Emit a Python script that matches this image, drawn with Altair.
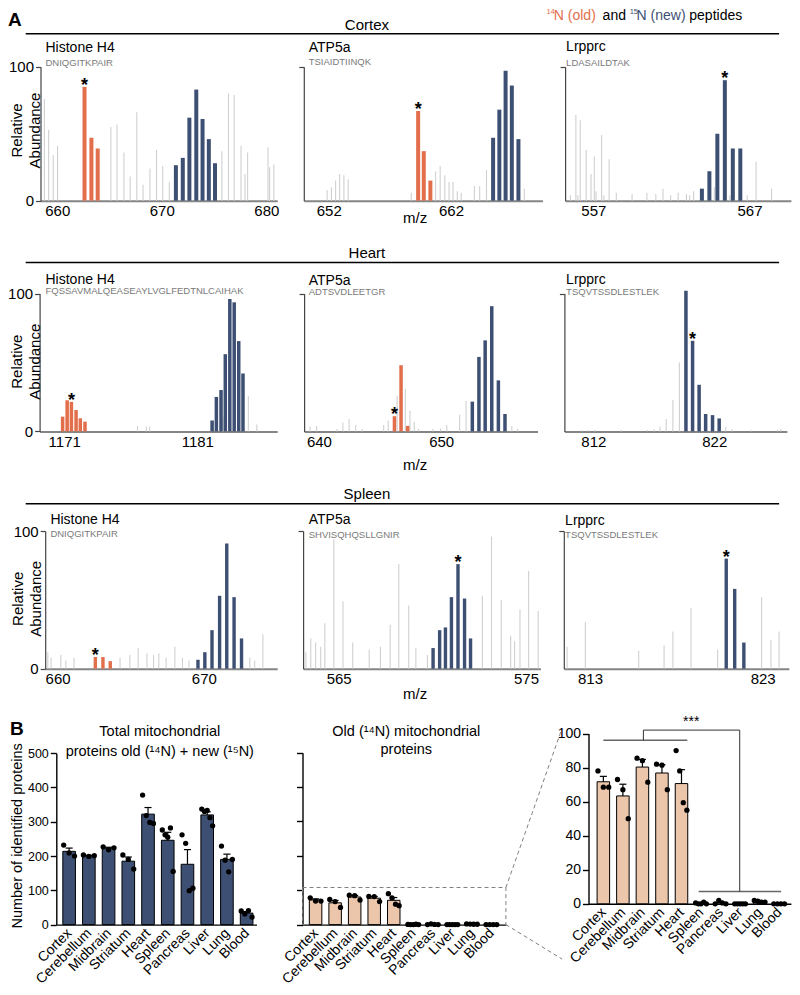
import altair as alt
import pandas as pd

FONT = "Liberation Sans"
ORANGE = "#E26E4B"
BLUE = "#3D4F73"
TAN = "#EBC6AA"
GRAY_PEAK = "#D0D0D0"

# ---------------- Panel A: spectra (m/z, relative abundance %) ----------------
CTX_H4_GRAY_MZ = [658.77, 659.18, 659.62, 660.03, 665.13, 665.72, 666.38, 666.98, 667.61, 668.21, 668.87, 669.50, 670.09, 670.72, 675.75, 676.38, 676.92, 677.58, 677.96, 678.21, 680.16, 680.32, 680.72]
CTX_H4_GRAY_AB = [76, 53, 34, 41, 55, 57, 36, 18, 66, 12, 24, 38, 26, 14, 37, 80, 79, 41, 20, 36, 40, 25, 27]
CTX_H4_OLD_MZ = [662.61, 663.27, 663.87]
CTX_H4_OLD_AB = [85, 47, 39]
CTX_H4_NEW_MZ = [671.35, 672.01, 672.64, 673.30, 673.90, 674.50, 675.09]
CTX_H4_NEW_AB = [26.5, 32, 62, 83, 61, 46, 28]

CTX_ATP_GRAY_MZ = [651.87, 652.22, 652.56, 652.89, 653.24, 653.59, 658.75, 660.74, 661.11, 661.49, 661.84, 662.16, 662.51, 662.83, 663.91, 664.34, 664.90, 667.99]
CTX_ATP_GRAY_AB = [8, 10, 15, 20, 19, 16, 6, 22, 26, 19, 14, 14, 7, 6, 11, 11, 23, 9]
CTX_ATP_OLD_MZ = [659.31, 659.77, 660.31]
CTX_ATP_OLD_AB = [67, 37, 15]
CTX_ATP_NEW_MZ = [665.44, 665.95, 666.46, 666.97, 667.51]
CTX_ATP_NEW_AB = [47, 68, 97, 86, 46]

CTX_LRP_GRAY_MZ = [555.53, 555.88, 556.01, 556.16, 556.54, 556.85, 557.06, 557.17, 557.53, 557.67, 558.01, 558.47, 559.48, 560.43, 561.00, 561.46, 561.95, 562.43, 562.96, 563.17, 563.42, 564.75, 565.74, 566.01, 566.85, 567.42, 568.41]
CTX_LRP_GRAY_AB = [4, 64, 4, 60, 38, 20, 33, 7, 49, 4, 31, 6, 5, 6, 5, 9, 4, 6, 5, 4, 7, 10, 4, 5, 4, 29, 9]
CTX_LRP_OLD_MZ = []
CTX_LRP_OLD_AB = []
CTX_LRP_NEW_MZ = [563.95, 564.43, 564.94, 565.42, 565.93, 566.41]
CTX_LRP_NEW_AB = [9, 22, 50, 90, 39, 39]

HRT_H4_GRAY_MZ = [1176.51, 1177.17, 1177.42, 1182.93, 1184.83, 1185.47]
HRT_H4_GRAY_AB = [4, 3.6, 3.6, 10.7, 25.5, 5]
HRT_H4_OLD_MZ = [1170.88, 1171.22, 1171.54, 1171.89, 1172.21, 1172.56]
HRT_H4_OLD_AB = [10.7, 22.6, 21.4, 15.5, 9.5, 7.1]
HRT_H4_NEW_MZ = [1182.11, 1182.43, 1182.78, 1183.10, 1183.44, 1183.77, 1184.11, 1184.43]
HRT_H4_NEW_AB = [7.9, 25, 30, 56, 96, 93.6, 65.5, 42]

HRT_ATP_GRAY_MZ = [639.27, 639.81, 641.48, 641.96, 642.47, 643.01, 643.55, 645.30, 645.67, 646.40, 647.07, 647.45, 647.80, 648.15, 649.33, 649.95, 650.46, 651.51, 652.04, 655.78, 656.26]
HRT_ATP_GRAY_AB = [3.6, 4, 1.7, 6.5, 9, 4.6, 1.7, 4.6, 7.8, 26, 31, 15, 7, 1.7, 1.7, 2, 4.6, 12, 22, 4, 2]
HRT_ATP_OLD_MZ = [646.18, 646.72, 647.26]
HRT_ATP_OLD_AB = [11, 48, 4]
HRT_ATP_NEW_MZ = [652.55, 653.09, 653.60, 654.14, 654.68, 655.22]
HRT_ATP_NEW_AB = [21.6, 54, 66, 90.8, 37, 12.6]

HRT_LRP_GRAY_MZ = [811.05, 811.59, 812.14, 814.31, 816.48, 817.03, 817.52, 818.03, 818.58, 819.12, 822.95, 823.47, 825.04, 827.22, 827.49]
HRT_LRP_GRAY_AB = [1, 1, 1, 1, 1, 1.5, 3.4, 9, 22.7, 50, 3.4, 1.7, 0.8, 1.2, 1.5]
HRT_LRP_OLD_MZ = []
HRT_LRP_OLD_AB = []
HRT_LRP_NEW_MZ = [819.66, 820.21, 820.75, 821.29, 821.86, 822.41]
HRT_LRP_NEW_AB = [102, 65.7, 33.8, 12.6, 11.8, 9.4]

SPL_H4_GRAY_MZ = [659.33, 659.55, 660.22, 660.56, 661.12, 664.27, 664.94, 665.51, 666.11, 666.56, 666.92, 667.42, 668.02, 668.54, 668.99, 673.15, 673.48, 674.04]
SPL_H4_GRAY_AB = [12, 8, 10, 6, 8, 8, 10, 15, 11, 10, 11, 8, 16, 8, 6, 8, 6, 25]
SPL_H4_OLD_MZ = [662.58, 663.10, 663.60]
SPL_H4_OLD_AB = [8.5, 8.5, 5.5]
SPL_H4_NEW_MZ = [669.60, 670.07, 670.56, 671.08, 671.57, 672.07, 672.58]
SPL_H4_NEW_AB = [6.5, 12, 28, 53, 91, 52, 22]

SPL_ATP_GRAY_MZ = [563.25, 563.51, 563.77, 564.04, 564.26, 564.74, 565.23, 565.75, 566.63, 567.23, 567.75, 568.21, 568.74, 569.12, 569.74, 572.67, 573.16, 573.68, 574.18, 574.39, 574.68, 575.14, 575.65]
SPL_ATP_GRAY_AB = [12, 22, 19, 16, 33, 94, 49, 19, 14, 16, 32, 76, 46, 15, 10, 53, 96, 50, 24, 20, 43, 71, 42]
SPL_ATP_OLD_MZ = []
SPL_ATP_OLD_AB = []
SPL_ATP_NEW_MZ = [570.04, 570.39, 570.70, 571.02, 571.37, 571.72, 572.04]
SPL_ATP_NEW_AB = [15, 28, 30, 52, 76, 51, 22]

SPL_LRP_GRAY_MZ = [811.67, 812.73, 815.82, 817.29, 817.80, 818.85, 820.39, 822.94, 823.48, 823.95]
SPL_LRP_GRAY_AB = [16, 34, 13, 17, 27, 44, 14, 52, 21, 27]
SPL_LRP_OLD_MZ = []
SPL_LRP_OLD_AB = []
SPL_LRP_NEW_MZ = [820.89, 821.38, 821.91]
SPL_LRP_NEW_AB = [80, 58, 19]

# starred peak of each spectrum: (series, index)
STARS = {"CTX_H4": ("old", 0), "CTX_ATP": ("old", 0), "CTX_LRP": ("new", 3),
         "HRT_H4": ("old", 2), "HRT_ATP": ("old", 0), "HRT_LRP": ("new", 1),
         "SPL_H4": ("old", 0), "SPL_ATP": ("new", 4), "SPL_LRP": ("new", 0)}

PROTEINS = {"H4": "Histone H4", "ATP": "ATP5a", "LRP": "Lrpprc"}
PEPTIDES = {"CTX_H4": "DNIQGITKPAIR", "CTX_ATP": "TSIAIDTIINQK", "CTX_LRP": "LDASAILDTAK",
            "HRT_H4": "FQSSAVMALQEASEAYLVGLFEDTNLCAIHAK", "HRT_ATP": "ADTSVDLEETGR", "HRT_LRP": "TSQVTSSDLESTLEK",
            "SPL_H4": "DNIQGITKPAIR", "SPL_ATP": "SHVISQHQSLLGNIR", "SPL_LRP": "TSQVTSSDLESTLEK"}
TICKS = {"CTX_H4": [660, 670, 680], "CTX_ATP": [652, 662], "CTX_LRP": [557, 567],
         "HRT_H4": [1171, 1181], "HRT_ATP": [640, 650], "HRT_LRP": [812, 822],
         "SPL_H4": [660, 670], "SPL_ATP": [565, 575], "SPL_LRP": [813, 823]}
DOMAINS = {"CTX_H4": [658.40, 681.04], "CTX_ATP": [649.96, 669.47], "CTX_LRP": [555.19, 569.65],
           "HRT_H4": [1169.15, 1187.0], "HRT_ATP": [638.79, 657.88], "HRT_LRP": [809.61, 828.01],
           "SPL_H4": [659.15, 675.02], "SPL_ATP": [563.10, 575.77], "SPL_LRP": [811.48, 824.52]}
TISSUE_ROWS = ["Cortex", "Heart", "Spleen"]

# ---------------- Panel B: identified proteins per replicate ----------------
TISSUES = ["Cortex", "Cerebellum", "Midbrain", "Striatum", "Heart", "Spleen", "Pancreas", "Liver", "Lung", "Blood"]
TOTAL_PROTEINS = [[232, 209, 200], [203, 199, 201], [227, 218, 224], [203, 190, 162], [378, 318, 298, 295],
                  [276, 262, 255, 282, 155], [262, 237, 99, 106], [337, 330, 333, 312, 288], [229, 188, 154, 190], [40, 31, 41, 22]]
OLD_PROTEINS = [[78, 68.5, 68.5], [73, 67, 50], [85.5, 84, 71.4], [82, 81.4, 67], [90, 78, 59.4, 55],
                [0.5, 0, 0, 1, 0], [0, 2, 0.5, 0], [0, 0, 0, 0, 0], [2, 1.5, 1, 1], [0, 0, 0, 0]]
ZOOM_BOX = [0, 108]
SIG_GROUP_X1 = [0, 4.88]
SIG_GROUP_X2 = [4.3, 9.1]
SIG_GROUP_Y = [96, 7.2]
BRACKET_X = [2.05, 2.05, 6.98, 6.98]
BRACKET_Y = [96, 102, 102, 7.2]
SIG_TEXT = "***"
SIG_TEXT_POS = [4.5, 102]

# ---------------- layout helpers (reference-pixel -> view-pixel) ----------------
W, H = 784, 979


def X(rx):
    return round((rx - 3) * 0.986, 1)


def Y(ry):
    return round((ry - 4) * 0.988, 1)


DUMMY = alt.InlineData(values=[{"k": 0}])


def text(s, rx, ry, size=14, color="black", align="left", baseline="middle", weight="normal", angle=0):
    mk = dict(text=s, fontSize=size, color=color, align=align, baseline=baseline, fontWeight=weight, font=FONT)
    if angle:
        mk["angle"] = angle
    return alt.Chart(DUMMY).mark_text(**mk).encode(x=alt.value(X(rx)), y=alt.value(Y(ry)))


def seg(rx1, ry1, rx2, ry2, color="black", width=1.5, dash=None):
    mk = dict(color=color, strokeWidth=width)
    if dash:
        mk["strokeDash"] = dash
    return alt.Chart(DUMMY).mark_rule(**mk).encode(
        x=alt.value(X(rx1)), y=alt.value(Y(ry1)), x2=alt.value(X(rx2)), y2=alt.value(Y(ry2)))


def spectrum(key, xr, yr, ylabels, bw):
    g = globals()
    gmz, gab = g[key + "_GRAY_MZ"], g[key + "_GRAY_AB"]
    omz, oab = g[key + "_OLD_MZ"], g[key + "_OLD_AB"]
    nmz, nab = g[key + "_NEW_MZ"], g[key + "_NEW_AB"]
    xs = alt.Scale(domain=DOMAINS[key], range=[X(xr[0]), X(xr[1])], nice=False, zero=False)
    ys = alt.Scale(domain=[0, 100], range=[Y(yr[0]), Y(yr[1])], nice=False, zero=False)
    xa = alt.Axis(orient="bottom", offset=round(Y(yr[0]) - H, 1), values=TICKS[key], format="d", title=None,
                  grid=False, ticks=False, labelFontSize=15, labelPadding=3, labelColor="black",
                  labelFlush=False, labelOverlap=False, domainColor="#858585", domainWidth=2)
    ya = alt.Axis(orient="left", offset=-X(xr[0]), values=[0, 100] if ylabels else [100], labels=ylabels,
                  title=None, grid=False, tickSize=5, tickColor="#444444", tickWidth=1.2,
                  domainColor="#444444", domainWidth=1.2, labelFontSize=15, labelPadding=2, labelColor="black")

    def enc():
        return dict(x=alt.X("mz:Q", scale=xs, axis=xa), y=alt.Y("ab:Q", scale=ys, axis=ya))

    layers = [alt.Chart(pd.DataFrame({"mz": gmz, "ab": gab})).mark_rule(color=GRAY_PEAK, strokeWidth=1.1)
              .encode(**enc(), y2=alt.datum(0))]
    if omz:
        layers.append(alt.Chart(pd.DataFrame({"mz": omz, "ab": oab})).mark_rule(color=ORANGE, strokeWidth=bw)
                      .encode(**enc(), y2=alt.datum(0)))
    if nmz:
        layers.append(alt.Chart(pd.DataFrame({"mz": nmz, "ab": nab})).mark_rule(color=BLUE, strokeWidth=bw)
                      .encode(**enc(), y2=alt.datum(0)))
    kind, i = STARS[key]
    smz, sab = (omz[i], oab[i]) if kind == "old" else (nmz[i], nab[i])
    layers.append(alt.Chart(pd.DataFrame({"mz": [smz], "ab": [sab]}))
                  .mark_text(text="*", fontSize=18, fontWeight="bold", baseline="alphabetic", dy=4, color="black",
                             font=FONT)
                  .encode(**enc()))
    return alt.layer(*layers)


LABEL_EXPR = "[" + ",".join("'" + t + "'" for t in TISSUES) + "][datum.value]"


def bar_panel(groups, color, xr, xdom, yr, ydom, yticks, ylabels, ylab_size, box=False, sig=False):
    rows = [{"idx": i, "val": v} for i, vals in enumerate(groups) for v in vals]
    df = pd.DataFrame(rows)
    xs = alt.Scale(domain=xdom, range=[X(xr[0]), X(xr[1])], nice=False, zero=False)
    ys = alt.Scale(domain=ydom, range=[Y(yr[0]), Y(yr[1])], nice=False, zero=False)
    xa = alt.Axis(orient="bottom", offset=round(Y(yr[0]) - H, 1), values=list(range(len(TISSUES))),
                  labelExpr=LABEL_EXPR, labelAngle=-45, labelAlign="right", labelBaseline="middle",
                  ticks=False, labelPadding=6, labelFontSize=14, labelColor="black", labelFlush=False,
                  labelOverlap=False, domainColor="black", domainWidth=1.4, title=None, grid=False)
    ya = alt.Axis(orient="left", offset=-X(xr[0]), values=yticks, labels=ylabels, title=None, grid=False,
                  tickSize=6, tickColor="black", tickWidth=1.4, domainColor="black", domainWidth=1.4,
                  labelFontSize=ylab_size, labelPadding=2, labelColor="black")
    base = alt.Chart(df)
    agg = base.transform_aggregate(m="mean(val)", se="stderr(val)", groupby=["idx"]).transform_calculate(
        lo="datum.idx - 0.32", hi="datum.idx + 0.32", top="datum.m + datum.se",
        cl="datum.idx - 0.18", cr="datum.idx + 0.18")
    layers = []
    if box:
        bdf = pd.DataFrame({"x1": [xdom[0]], "x2": [xdom[1]], "y1": [ZOOM_BOX[0]], "y2": [ZOOM_BOX[1]]})
        layers.append(alt.Chart(bdf).mark_rect(fillOpacity=0, stroke="#808080", strokeWidth=1, strokeDash=[4, 3])
                      .encode(x=alt.X("x1:Q", scale=xs, axis=xa), x2="x2:Q",
                              y=alt.Y("y1:Q", scale=ys, axis=ya), y2="y2:Q"))
    layers += [
        agg.mark_rect(fill=color, stroke="black", strokeWidth=1).encode(
            x=alt.X("lo:Q", scale=xs, axis=xa), x2="hi:Q", y=alt.Y("m:Q", scale=ys, axis=ya), y2=alt.datum(0)),
        agg.mark_rule(color="black", strokeWidth=1.2).encode(
            x=alt.X("idx:Q", scale=xs, axis=xa), y=alt.Y("m:Q", scale=ys, axis=ya), y2="top:Q"),
        agg.mark_rule(color="black", strokeWidth=1.2).encode(
            x=alt.X("cl:Q", scale=xs, axis=xa), x2="cr:Q", y=alt.Y("top:Q", scale=ys, axis=ya)),
        base.transform_window(rn="row_number()", groupby=["idx"])
            .transform_joinaggregate(n="count()", groupby=["idx"])
            .transform_calculate(xj="datum.idx + (datum.rn - (datum.n + 1) / 2) * 0.55 / max(datum.n - 1, 1)")
            .mark_circle(size=28, color="black", opacity=1)
            .encode(x=alt.X("xj:Q", scale=xs, axis=xa), y=alt.Y("val:Q", scale=ys, axis=ya)),
    ]
    if sig:
        gdf = pd.DataFrame({"x1": SIG_GROUP_X1, "x2": SIG_GROUP_X2, "y": SIG_GROUP_Y})
        layers.append(alt.Chart(gdf).mark_rule(color="#666666", strokeWidth=1.5).encode(
            x=alt.X("x1:Q", scale=xs, axis=xa), x2="x2:Q", y=alt.Y("y:Q", scale=ys, axis=ya)))
        bdf = pd.DataFrame({"x": BRACKET_X, "y": BRACKET_Y, "o": list(range(len(BRACKET_X)))})
        layers.append(alt.Chart(bdf).mark_line(color="#333333", strokeWidth=1).encode(
            x=alt.X("x:Q", scale=xs, axis=xa), y=alt.Y("y:Q", scale=ys, axis=ya), order="o:Q"))
        tdf = pd.DataFrame({"x": [SIG_TEXT_POS[0]], "y": [SIG_TEXT_POS[1]]})
        layers.append(alt.Chart(tdf).mark_text(text=SIG_TEXT, fontSize=14, baseline="bottom", dy=-1, font=FONT,
                                               color="black")
                      .encode(x=alt.X("x:Q", scale=xs, axis=xa), y=alt.Y("y:Q", scale=ys, axis=ya)))
    return alt.layer(*layers)


layers = []
# header of panel A
layers += [
    text("A", 3, 7, size=19, weight="bold", baseline="top"),
    text("14", 549, 8.5, size=7.5, color=ORANGE),
    text("N (old)", 556.5, 12, color=ORANGE),
    text("and", 606, 12),
    text("15", 633.5, 8.5, size=7.5, color=BLUE),
    text("N (new)", 640.5, 12, color=BLUE),
    text("peptides", 694, 12),
]

ROW_Y = {"CTX": (199, 63.5), "HRT": (432.5, 293), "SPL": (672.7, 533.5)}
ROW_LINE = {"CTX": 30, "HRT": 261.7, "SPL": 505.7}
ROW_HEAD = {"CTX": 21, "HRT": 252, "SPL": 496}
ROW_MZ = {"CTX": 216, "HRT": 467, "SPL": 698}
ROW_RA = {"CTX": (12, 30, 128), "HRT": (12, 30, 362), "SPL": (13, 31, 602)}
PANEL_X = {"CTX": {"H4": (36, 276), "ATP": (303, 545), "LRP": (568, 797)},
           "HRT": {"H4": (35, 276), "ATP": (303.3, 540), "LRP": (567.3, 793)},
           "SPL": {"H4": (40.7, 276), "ATP": (302.3, 543), "LRP": (566.7, 795)}}
TITLE_POS = {"CTX": {"H4": (41, 44, 59.5), "ATP": (308, 44, 59), "LRP": (569, 43, 60)},
             "HRT": {"H4": (41, 279, 290.5), "ATP": (308, 280, 291.5), "LRP": (569, 279, 291.5)},
             "SPL": {"H4": (46, 522, 536), "ATP": (308, 522, 537), "LRP": (568, 523, 537)}}
BAR_W = {"CTX": 4, "HRT": 3.5, "SPL": 3.4}

for row, tissue in zip(["CTX", "HRT", "SPL"], TISSUE_ROWS):
    layers.append(seg(21, ROW_LINE[row], 785, ROW_LINE[row], width=1.5))
    layers.append(text(tissue, 367, ROW_HEAD[row], size=15, align="center"))
    layers.append(text("m/z", 416, ROW_MZ[row], size=15, align="center"))
    rx1, rx2, ry = ROW_RA[row]
    layers.append(text("Relative", rx1, ry, size=15, align="center", angle=270))
    layers.append(text("Abundance", rx2, ry, size=15, align="center", angle=270))
    for p in ["H4", "ATP", "LRP"]:
        key = row + "_" + p
        layers.append(spectrum(key, PANEL_X[row][p], ROW_Y[row], p == "H4", BAR_W[row]))
        tx, ty, sy = TITLE_POS[row][p]
        layers.append(text(PROTEINS[p], tx, ty, size=14))
        layers.append(text(PEPTIDES[key], tx, sy, size=9.5, color="#7a7a7a"))

# panel B
layers += [
    text("B", 5, 725, size=19, weight="bold", baseline="top"),
    text("Total mitochondrial", 157, 737, size=14.5, align="center"),
    text("proteins old (\u00b9\u2074N) + new (\u00b9\u2075N)", 157, 757, size=14.5, align="center"),
    text("Old (\u00b9\u2074N) mitochondrial", 407, 737, size=14.5, align="center"),
    text("proteins", 407, 755, size=14.5, align="center"),
    text("Number of identified proteins", 13, 842, size=14.5, align="center", angle=270),
]
layers.append(bar_panel(TOTAL_PROTEINS, BLUE, (52, 255), [-0.65, 9.5], (931.7, 758.3), [0, 500],
                        [0, 100, 200, 300, 400, 500], True, 12.5))
layers.append(bar_panel(OLD_PROTEINS, TAN, (301.7, 508), [-0.67, 9.74], (931.7, 757.7), [0, 500],
                        [0, 100, 200, 300, 400, 500], False, 12.5, box=True))
layers.append(bar_panel(OLD_PROTEINS, TAN, (591.7, 797), [-0.76, 9.6], (910.7, 738.3), [0, 100],
                        [0, 20, 40, 60, 80, 100], True, 14, sig=True))
layers.append(seg(508, 894.3, 563.5, 737, color="#808080", width=1, dash=[4, 3]))
layers.append(seg(508, 931.7, 565, 966.7, color="#808080", width=1, dash=[4, 3]))

chart = (alt.layer(*layers)
         .resolve_scale(x="independent", y="independent")
         .properties(width=W, height=H, padding=0, autosize=alt.AutoSizeParams(type="none"))
         .configure_view(stroke=None)
         .configure_axis(labelFont=FONT)
         .configure_text(font=FONT))

chart.save("out.html", embed_options={"renderer": "svg", "actions": False})
